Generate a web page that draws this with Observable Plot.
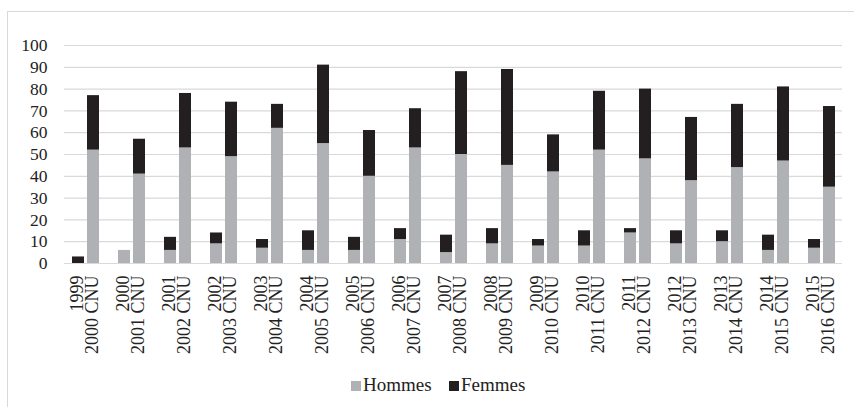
<!DOCTYPE html>
<html>
<head>
<meta charset="utf-8">
<script src="https://cdn.jsdelivr.net/npm/d3@7"></script>
<script src="https://cdn.jsdelivr.net/npm/@observablehq/plot@0.6"></script>
<style>
  html, body { margin: 0; padding: 0; background: #fff; }
  body { width: 854px; height: 407px; position: relative; overflow: hidden; font-family: "Liberation Serif", Tinos, "Times New Roman", Times, "DejaVu Serif", serif; }
  #cadre { position: absolute; left: 7px; top: 11px; width: 900px; height: 450px; border: 1px solid #d9d9d9; box-sizing: border-box; }
  #grid, #chart { position: absolute; left: 0; top: 0; }
  #legend { position: absolute; left: 0; top: 368px; width: 854px; height: 32px; }
  .item { position: absolute; top: 7px; font-size: 19px; color: #222; line-height: 20px; white-space: nowrap; }
  .sw { display: inline-block; width: 10.5px; height: 10.5px; margin-right: 2px; vertical-align: 0px; }
  svg text { font-family: "Liberation Serif", Tinos, "Times New Roman", Times, "DejaVu Serif", serif !important; }
</style>
</head>
<body>
<div id="cadre"></div>
<div id="grid"></div>
<div id="chart"></div>
<div id="legend"></div>
<script>
// Groups: first label line (year) and second label line (CNU session)
const groupes = ["1999","2000","2001","2002","2003","2004","2005","2006","2007","2008","2009","2010","2011","2012","2013","2014","2015"];
const libellesCNU = ["2000 CNU","2001 CNU","2002 CNU","2003 CNU","2004 CNU","2005 CNU","2006 CNU","2007 CNU","2008 CNU","2009 CNU","2010 CNU","2011 CNU","2012 CNU","2013 CNU","2014 CNU","2015 CNU","2016 CNU"];
// Left bar of each group (year)
const hommesAnnee = [0, 6, 6, 9, 7, 6, 6, 11, 5, 9, 8, 8, 14, 9, 10, 6, 7];
const femmesAnnee = [3, 0, 6, 5, 4, 9, 6, 5, 8, 7, 3, 7, 2, 6, 5, 7, 4];
// Right bar of each group (CNU)
const hommesCNU = [52, 41, 53, 49, 62, 55, 40, 53, 50, 45, 42, 52, 48, 38, 44, 47, 35];
const femmesCNU = [25, 16, 25, 25, 11, 36, 21, 18, 38, 44, 17, 27, 32, 29, 29, 34, 37];
const yTicks = [0, 10, 20, 30, 40, 50, 60, 70, 80, 90, 100];
const series = ["Hommes", "Femmes"];
const couleurs = ["#b0b1b4", "#231f20"];

const rows = [];
groupes.forEach((g, i) => {
  rows.push({groupe: g, barre: "annee", sexe: "Hommes", valeur: hommesAnnee[i]});
  rows.push({groupe: g, barre: "annee", sexe: "Femmes", valeur: femmesAnnee[i]});
  rows.push({groupe: g, barre: "cnu", sexe: "Hommes", valeur: hommesCNU[i]});
  rows.push({groupe: g, barre: "cnu", sexe: "Femmes", valeur: femmesCNU[i]});
});

const common = {
  width: 854,
  height: 368,
  marginLeft: 64,
  marginRight: 12,
  marginTop: 45,
  marginBottom: 105,
  style: {fontFamily: "'Liberation Serif', Tinos, 'Times New Roman', Times, 'DejaVu Serif', serif", fontSize: "18px", color: "#222", background: "transparent"},
  y: {domain: [0, 100], label: null}
};

// Background layer: continuous gridlines and y axis
const grid = Plot.plot({
  ...common,
  marks: [
    Plot.ruleY(yTicks, {stroke: "#d9d9d9", strokeWidth: 1.2}),
    Plot.axisY(yTicks, {tickSize: 0, tickPadding: 17, fontSize: 17.5, fill: "#222", label: null})
  ]
});
document.getElementById("grid").appendChild(grid);

// Foreground layer: faceted stacked bars and two-line category labels
const chart = Plot.plot({
  ...common,
  y: {domain: [0, 100], axis: null, label: null},
  fx: {domain: groupes, paddingInner: 0.4, paddingOuter: 0.028, axis: null, label: null},
  x: {domain: ["annee", "cnu"], paddingInner: 0.2166, paddingOuter: 0, axis: null, label: null},
  color: {domain: series, range: couleurs},
  marks: [
    Plot.barY(rows, {fx: "groupe", x: "barre", y: "valeur", fill: "sexe"}),
    Plot.text(groupes, {
      fx: d => d,
      frameAnchor: "bottom",
      text: (d, i) => d + "\n" + libellesCNU[i],
      rotate: -90,
      textAnchor: "end",
      lineAnchor: "middle",
      lineHeight: 0.82,
      dy: 12,
      fontSize: 18,
      fill: "#222"
    })
  ]
});
document.getElementById("chart").appendChild(chart);

const legend = document.getElementById("legend");
const positions = [350.5, 448.5];
series.forEach((s, i) => {
  const item = document.createElement("div");
  item.className = "item";
  item.style.left = positions[i] + "px";
  const sw = document.createElement("span");
  sw.className = "sw";
  sw.style.background = couleurs[i];
  item.appendChild(sw);
  item.appendChild(document.createTextNode(s));
  legend.appendChild(item);
});
</script>
</body>
</html>
